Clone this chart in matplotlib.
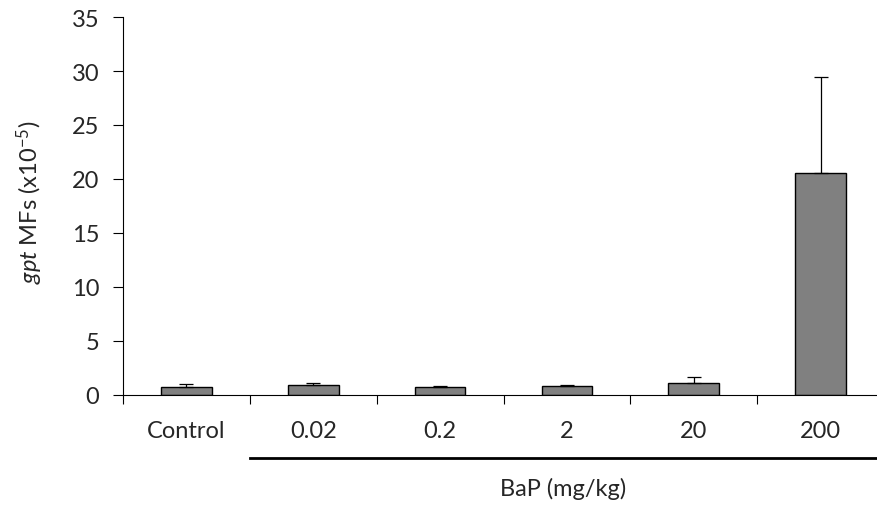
import matplotlib
matplotlib.use("Agg")
import matplotlib.pyplot as plt
import matplotlib.transforms as mtransforms

categories = ["Control", "0.02", "0.2", "2", "20", "200"]
means = [0.70, 0.93, 0.70, 0.80, 1.10, 20.6]
errors = [0.35, 0.22, 0.10, 0.10, 0.60, 8.8]
yticks = [0, 5, 10, 15, 20, 25, 30, 35]

plt.rcParams['font.family'] = ['Lato', 'DejaVu Sans']
plt.rcParams['mathtext.fontset'] = 'custom'
plt.rcParams['mathtext.rm'] = 'Lato'
plt.rcParams['mathtext.it'] = 'Lato:italic'

FS = 17
TXT = '#262626'

fig = plt.figure(figsize=(8.77, 5.06), dpi=100)
ax = fig.add_axes([123/877, 1-396/506, 761/877, 378/506])

x = list(range(len(categories)))
ax.bar(x, means, width=0.4, color="#808080", edgecolor="black", linewidth=1.0, zorder=2)
ax.errorbar(x, means, yerr=[[0]*len(errors), errors], fmt="none", ecolor="black",
            elinewidth=0.9, capsize=5, capthick=0.9, zorder=3)

ax.set_xlim(-0.5, 5.5)
ax.set_ylim(0, 35)
ax.set_yticks(yticks)
ax.tick_params(axis='y', labelsize=FS, direction='out', length=7, width=0.8, pad=10,
               labelcolor=TXT)
ax.set_xticks([i + 0.5 for i in range(-1, 5)])
ax.set_xticklabels([])
ax.set_xticks(x, minor=True)
ax.set_xticklabels(categories, minor=True)
ax.tick_params(axis='x', which='major', direction='out', length=6.5, width=0.8)
ax.tick_params(axis='x', which='minor', length=0, labelsize=FS, pad=18, labelcolor=TXT)
for s in ['top', 'right']:
    ax.spines[s].set_visible(False)
ax.spines['left'].set_linewidth(0.8)
ax.spines['bottom'].set_linewidth(0.8)

ax.set_ylabel(r"$\it{gpt}$ MFs (x10$^{-5}$)", fontsize=FS, color=TXT)
ax.yaxis.set_label_coords((30-123)/761, 0.513)
ax.yaxis.label.set_va('center')

trans = mtransforms.blended_transform_factory(ax.transData, fig.transFigure)
ax.plot([0.5, 5.6], [1-459/506, 1-459/506], color="black", linewidth=2.0,
        transform=trans, clip_on=False)
fig.text(563/877, 1-489/506, "BaP (mg/kg)", ha="center", va="center", fontsize=FS, color=TXT)

fig.savefig("out.png", dpi=100)
